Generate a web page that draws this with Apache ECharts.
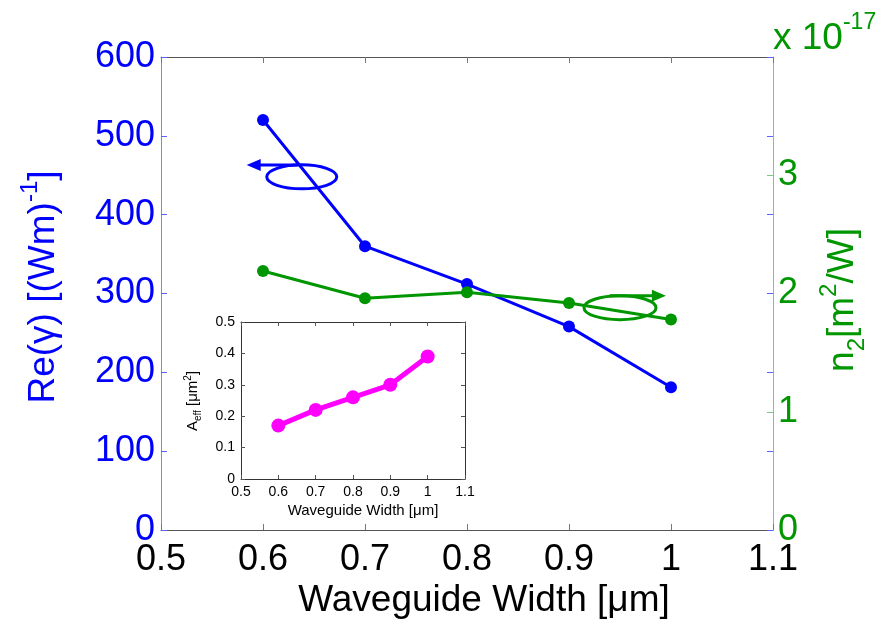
<!DOCTYPE html>
<html>
<head>
<meta charset="utf-8">
<script src="https://cdn.jsdelivr.net/npm/echarts@6/dist/echarts.min.js"></script>
<style>html,body{margin:0;padding:0;background:#fff;}#c{width:886px;height:625px;}</style>
</head>
<body>
<div id="c"></div>
<script>
// ---- data ----
var widths = [0.6, 0.7, 0.8, 0.9, 1.0];
var reGamma = [520, 360, 312, 258, 181];
var n2 = [2.19, 1.96, 2.01, 1.92, 1.78];          // x 1e-17 m^2/W
var aEff = [0.17, 0.22, 0.26, 0.30, 0.39];        // um^2
var xTicksMain = [0.5, 0.6, 0.7, 0.8, 0.9, 1, 1.1];
var leftTicks = [0, 100, 200, 300, 400, 500, 600];
var rightTicks = [0, 1, 2, 3];
var insetYTicks = [0, 0.1, 0.2, 0.3, 0.4, 0.5];
// annotation anchors (data coords)
var blueEllipse = [0.638, 448];
var blueArrow = [[0.634, 463], [0.584, 463]];
var greenEllipse = [0.95, 1.88];
var greenArrow = [[0.94, 1.98], [0.995, 1.98]];

var BLUE = '#0000ff', GREEN = '#009600', MAG = '#ff00ff';
var FONT = 'Liberation Sans, Arial, sans-serif';
function fmt(v){ return String(+(+v).toFixed(2)); }

var chart = echarts.init(document.getElementById('c'), null, {renderer: 'canvas'});
var option = {
  backgroundColor: '#fff',
  animation: false,
  textStyle: {fontFamily: FONT},
  grid: [
    {left: 161, top: 57, width: 612, height: 473, containLabel: false},
    {left: 241, top: 322, width: 224, height: 157, containLabel: false, show: true, backgroundColor: '#fff', borderWidth: 0, z: 5}
  ],
  xAxis: [
    {type: 'value', gridIndex: 0, min: 0.5, max: 1.1, interval: 0.1, position: 'bottom',
      axisLine: {onZero: false, lineStyle: {color: '#555', width: 1}},
      axisTick: {inside: true, length: 6, lineStyle: {color: '#777'}},
      axisLabel: {color: '#000', fontSize: 36, fontFamily: FONT, margin: 12, formatter: fmt},
      splitLine: {show: false}},
    {type: 'value', gridIndex: 0, min: 0.5, max: 1.1, interval: 0.1, position: 'top',
      axisLine: {onZero: false, lineStyle: {color: '#555', width: 1}},
      axisTick: {inside: true, length: 6, lineStyle: {color: '#777'}},
      axisLabel: {show: false}, splitLine: {show: false}},
    {type: 'value', gridIndex: 1, min: 0.5, max: 1.1, interval: 0.1, position: 'bottom', z: 6,
      axisLine: {onZero: false, lineStyle: {color: '#333', width: 1}},
      axisTick: {inside: true, length: 4, lineStyle: {color: '#555'}},
      axisLabel: {color: '#000', fontSize: 14, fontFamily: FONT, margin: 6, formatter: fmt},
      splitLine: {show: false}},
    {type: 'value', gridIndex: 1, min: 0.5, max: 1.1, interval: 0.1, position: 'top', z: 6,
      axisLine: {onZero: false, lineStyle: {color: '#333', width: 1}},
      axisTick: {inside: true, length: 4, lineStyle: {color: '#555'}},
      axisLabel: {show: false}, splitLine: {show: false}}
  ],
  yAxis: [
    {type: 'value', gridIndex: 0, min: 0, max: 600, interval: 100, position: 'left',
      axisLine: {show: true, onZero: false, lineStyle: {color: '#8080ff', width: 1}},
      axisTick: {show: true, inside: true, length: 6, lineStyle: {color: '#6060ff'}},
      axisLabel: {color: BLUE, fontSize: 36, fontFamily: FONT, margin: 6,
        formatter: function(v){ return leftTicks.indexOf(v) >= 0 ? String(v) : ''; }},
      splitLine: {show: false}},
    {type: 'value', gridIndex: 0, min: 0, max: 4, interval: 1, position: 'right',
      axisLine: {show: true, onZero: false, lineStyle: {color: '#80c880', width: 1}},
      axisTick: {show: true, inside: true, length: 6, lineStyle: {color: '#80c880'}},
      axisLabel: {color: GREEN, fontSize: 36, fontFamily: FONT, margin: 5,
        formatter: function(v){ return rightTicks.indexOf(v) >= 0 ? String(v) : ''; }},
      splitLine: {show: false}},
    {type: 'value', gridIndex: 0, min: 0, max: 600, interval: 100, position: 'right',
      axisLine: {show: false},
      axisTick: {show: true, inside: true, length: 6, lineStyle: {color: '#6060ff'}},
      axisLabel: {show: false}, splitLine: {show: false}},
    {type: 'value', gridIndex: 1, min: 0, max: 0.5, interval: 0.1, position: 'left', z: 6,
      axisLine: {show: true, onZero: false, lineStyle: {color: '#333', width: 1}},
      axisTick: {show: true, inside: true, length: 4, lineStyle: {color: '#555'}},
      axisLabel: {color: '#000', fontSize: 14, fontFamily: FONT, margin: 6,
        formatter: function(v){ return insetYTicks.some(function(t){return Math.abs(t - v) < 1e-9;}) ? fmt(v) : ''; }},
      splitLine: {show: false}},
    {type: 'value', gridIndex: 1, min: 0, max: 0.5, interval: 0.1, position: 'right', z: 6,
      axisLine: {show: true, onZero: false, lineStyle: {color: '#333', width: 1}},
      axisTick: {show: true, inside: true, length: 4, lineStyle: {color: '#555'}},
      axisLabel: {show: false}, splitLine: {show: false}}
  ],
  series: [
    {type: 'line', xAxisIndex: 0, yAxisIndex: 0, data: widths.map(function(w,i){return [w, reGamma[i]];}),
      symbol: 'circle', symbolSize: 12, lineStyle: {color: BLUE, width: 3}, itemStyle: {color: BLUE}, z: 3},
    {type: 'line', xAxisIndex: 0, yAxisIndex: 1, data: widths.map(function(w,i){return [w, n2[i]];}),
      symbol: 'circle', symbolSize: 12, lineStyle: {color: GREEN, width: 3}, itemStyle: {color: GREEN}, z: 3},
    {type: 'line', xAxisIndex: 2, yAxisIndex: 3, data: widths.map(function(w,i){return [w, aEff[i]];}),
      symbol: 'circle', symbolSize: 14, lineStyle: {color: MAG, width: 5}, itemStyle: {color: MAG}, z: 7}
  ]
};
chart.setOption(option);

function px(yAxisIndex, p){ return chart.convertToPixel({xAxisIndex: 0, yAxisIndex: yAxisIndex}, p); }
var be = px(0, blueEllipse), ba0 = px(0, blueArrow[0]), ba1 = px(0, blueArrow[1]);
var ge = px(1, greenEllipse), ga0 = px(1, greenArrow[0]), ga1 = px(1, greenArrow[1]);

var graphics = [
  // annotations
  {type: 'ellipse', shape: {cx: be[0], cy: be[1], rx: 35, ry: 12}, style: {fill: 'none', stroke: BLUE, lineWidth: 3}, z: 10},
  {type: 'line', shape: {x1: ba0[0], y1: ba0[1], x2: ba1[0] + 10, y2: ba1[1]}, style: {stroke: BLUE, lineWidth: 3}, z: 10},
  {type: 'polygon', shape: {points: [[ba1[0], ba1[1]], [ba1[0] + 14, ba1[1] - 6], [ba1[0] + 14, ba1[1] + 6]]}, style: {fill: BLUE}, z: 10},
  {type: 'ellipse', shape: {cx: ge[0], cy: ge[1], rx: 36, ry: 12}, style: {fill: 'none', stroke: GREEN, lineWidth: 3}, z: 10},
  {type: 'line', shape: {x1: ga0[0], y1: ga0[1], x2: ga1[0] - 10, y2: ga1[1]}, style: {stroke: GREEN, lineWidth: 3}, z: 10},
  {type: 'polygon', shape: {points: [[ga1[0], ga1[1]], [ga1[0] - 14, ga1[1] - 6], [ga1[0] - 14, ga1[1] + 6]]}, style: {fill: GREEN}, z: 10},
  // axis titles
  {type: 'text', x: 40, y: 287, rotation: Math.PI / 2, z: 20,
    style: {text: '{n|Re(γ) [(Wm)}{s|-1}{n|]}', align: 'center', verticalAlign: 'middle', fill: BLUE,
      rich: {n: {fontSize: 37, fontFamily: FONT, fill: BLUE, lineHeight: 44, verticalAlign: 'bottom'},
             s: {fontSize: 24, fontFamily: FONT, fill: BLUE, lineHeight: 44, verticalAlign: 'top'}}}},
  {type: 'text', x: 843, y: 300, rotation: Math.PI / 2, z: 20,
    style: {text: '{n|n}{b|2}{n|[m}{s|2}{n|/W]}', align: 'center', verticalAlign: 'middle', fill: GREEN,
      rich: {n: {fontSize: 37, fontFamily: FONT, fill: GREEN, lineHeight: 52, verticalAlign: 'middle'},
             s: {fontSize: 24, fontFamily: FONT, fill: GREEN, lineHeight: 52, verticalAlign: 'top'},
             b: {fontSize: 24, fontFamily: FONT, fill: GREEN, lineHeight: 52, verticalAlign: 'bottom'}}}},
  {type: 'text', x: 484, y: 601, z: 20,
    style: {text: 'Waveguide Width [μm]', align: 'center', verticalAlign: 'middle', fill: '#000', fontSize: 37, fontFamily: FONT}},
  {type: 'text', x: 773, y: 34, z: 20,
    style: {text: '{n|x 10}{s|-17}', align: 'left', verticalAlign: 'middle', fill: GREEN,
      rich: {n: {fontSize: 37, fontFamily: FONT, fill: GREEN, lineHeight: 46, verticalAlign: 'bottom'},
             s: {fontSize: 23, fontFamily: FONT, fill: GREEN, lineHeight: 46, verticalAlign: 'top'}}}},
  // inset titles
  {type: 'text', x: 193, y: 401, rotation: Math.PI / 2, z: 20,
    style: {text: '{n|A}{b|eff}{n| [μm}{s|2}{n|]}', align: 'center', verticalAlign: 'middle', fill: '#000',
      rich: {n: {fontSize: 15, fontFamily: FONT, fill: '#000', lineHeight: 20, verticalAlign: 'middle'},
             s: {fontSize: 10, fontFamily: FONT, fill: '#000', lineHeight: 20, verticalAlign: 'top'},
             b: {fontSize: 10, fontFamily: FONT, fill: '#000', lineHeight: 20, verticalAlign: 'bottom'}}}},
  {type: 'text', x: 363, y: 511, z: 20,
    style: {text: 'Waveguide Width [μm]', align: 'center', verticalAlign: 'middle', fill: '#000', fontSize: 15, fontFamily: FONT}}
];
chart.setOption({graphic: graphics});
</script>
</body>
</html>
